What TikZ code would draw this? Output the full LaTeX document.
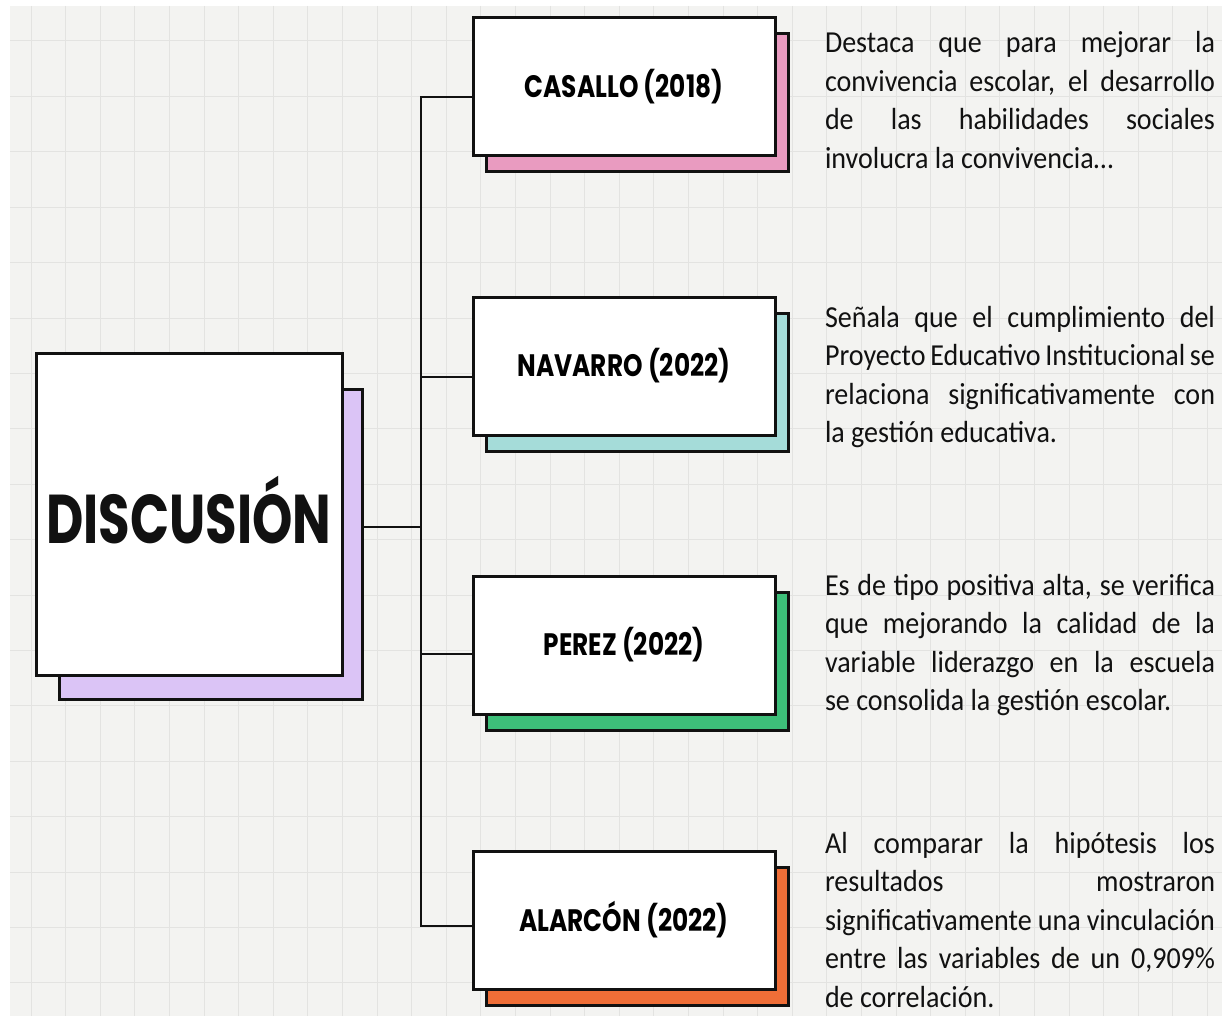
\documentclass[tikz,border=0pt]{standalone}
\usepackage{fontspec}
\setmainfont{Carlito}[FakeStretch=0.92]
\newfontfamily\titlefont{Poppins}[FakeStretch=0.8]
\definecolor{bgc}{HTML}{F3F3F1}
\definecolor{gridc}{HTML}{E3E3E1}
\definecolor{pinkc}{HTML}{E99BC0}
\definecolor{lilac}{HTML}{DBC4F6}
\definecolor{tealc}{HTML}{A5DCD9}
\definecolor{greenc}{HTML}{3DBF79}
\definecolor{orangec}{HTML}{EF6E37}
\definecolor{inkc}{HTML}{111111}
\newcommand\jline[1]{\hbox to 390pt{#1}}
\newcommand\lastline[1]{\hbox{#1}}
\begin{document}
\begin{tikzpicture}[x=1pt,y=-1pt,
  gridline/.style={draw=gridc,line width=1pt},
  boxline/.style={draw=inkc,line width=3pt,inner sep=0pt,outer sep=0pt},
  whitebox/.style={boxline,fill=white,minimum width=302pt,minimum height=138pt,
    font=\titlefont\bfseries\fontsize{31}{31}\selectfont},
  shadowbox/.style={boxline,minimum width=302pt,minimum height=138pt},
  conn/.style={draw=inkc,line width=2.8pt},
  para/.style={anchor=base west,inner sep=0pt,outer sep=0pt,text=inkc,
    font=\fontsize{30.5}{38.5}\selectfont}]
\useasboundingbox (0,0) rectangle (1222,1016);
\fill[white] (0,0) rectangle (1222,1016);
\fill[bgc] (10,6) rectangle (1222,1016);
\foreach \x in {31,65.6,...,1222} \draw[gridline] (\x,6) -- (\x,1016);
\foreach \y in {41,96.4,...,1016} \draw[gridline] (10,\y) -- (1222,\y);

% main box
\node[boxline,fill=lilac,minimum width=303pt,minimum height=310pt] (ds) at (210.5,544) {};
\node[boxline,fill=white,minimum width=306pt,minimum height=322pt] (d) at (189,514) {};
\node[anchor=base,inner sep=0pt,text=inkc] (dt) at (189,543)
  {\scalebox{0.93}[1]{\titlefont\bfseries\fontsize{69}{69}\selectfont DISCUSIÓN}};

% side boxes
\node[shadowbox,fill=pinkc] (s1) at (637,103) {};
\node[whitebox] (b1) at (624,87) {CASALLO (2018)};
\node[shadowbox,fill=tealc] (s2) at (637,382) {};
\node[whitebox] (b2) at (624,366) {NAVARRO (2022)};
\node[shadowbox,fill=greenc] (s3) at (637,661) {};
\node[whitebox] (b3) at (624,645) {PEREZ (2022)};
\node[shadowbox,fill=orangec] (s4) at (637,936) {};
\node[whitebox] (b4) at (624,920) {ALARCÓN (2022)};

% connectors
\coordinate (hub) at (421,527);
\draw[conn] (ds.east |- hub) -- (hub);
\draw[conn,line cap=rect] ([yshift=-10pt]b1.west -| hub) -- ([yshift=-6pt]b4.west -| hub);
\draw[conn] ([yshift=-10pt]b1.west -| hub) -- ([yshift=-10pt]b1.west);
\draw[conn] ([yshift=-11pt]b2.west -| hub) -- ([yshift=-11pt]b2.west);
\draw[conn] ([yshift=-9pt]b3.west -| hub) -- ([yshift=-9pt]b3.west);
\draw[conn] ([yshift=-6pt]b4.west -| hub) -- ([yshift=-6pt]b4.west);

% paragraphs
\node[para] (t1) at (825,53) {\vtop{\baselineskip=38.5pt
  \jline{Destaca que para mejorar la}
  \jline{convivencia escolar, el desarrollo}
  \jline{de las habilidades sociales}
  \lastline{involucra la convivencia…}}};
\node[para] (t2) at (825,327) {\vtop{\baselineskip=38.5pt
  \jline{Señala que el cumplimiento del}
  \jline{Proyecto Educativo Institucional se}
  \jline{relaciona significativamente con}
  \lastline{la gestión educativa.}}};
\node[para] (t3) at (825,595) {\vtop{\baselineskip=38.5pt
  \jline{Es de tipo positiva alta, se verifica}
  \jline{que mejorando la calidad de la}
  \jline{variable liderazgo en la escuela}
  \lastline{se consolida la gestión escolar.}}};
\node[para] (t4) at (825,853) {\vtop{\baselineskip=38.5pt
  \jline{Al comparar la hipótesis los}
  \jline{resultados mostraron}
  \jline{significativamente una vinculación}
  \jline{entre las variables de un 0,909\%}
  \lastline{de correlación.}}};
\end{tikzpicture}
\end{document}
